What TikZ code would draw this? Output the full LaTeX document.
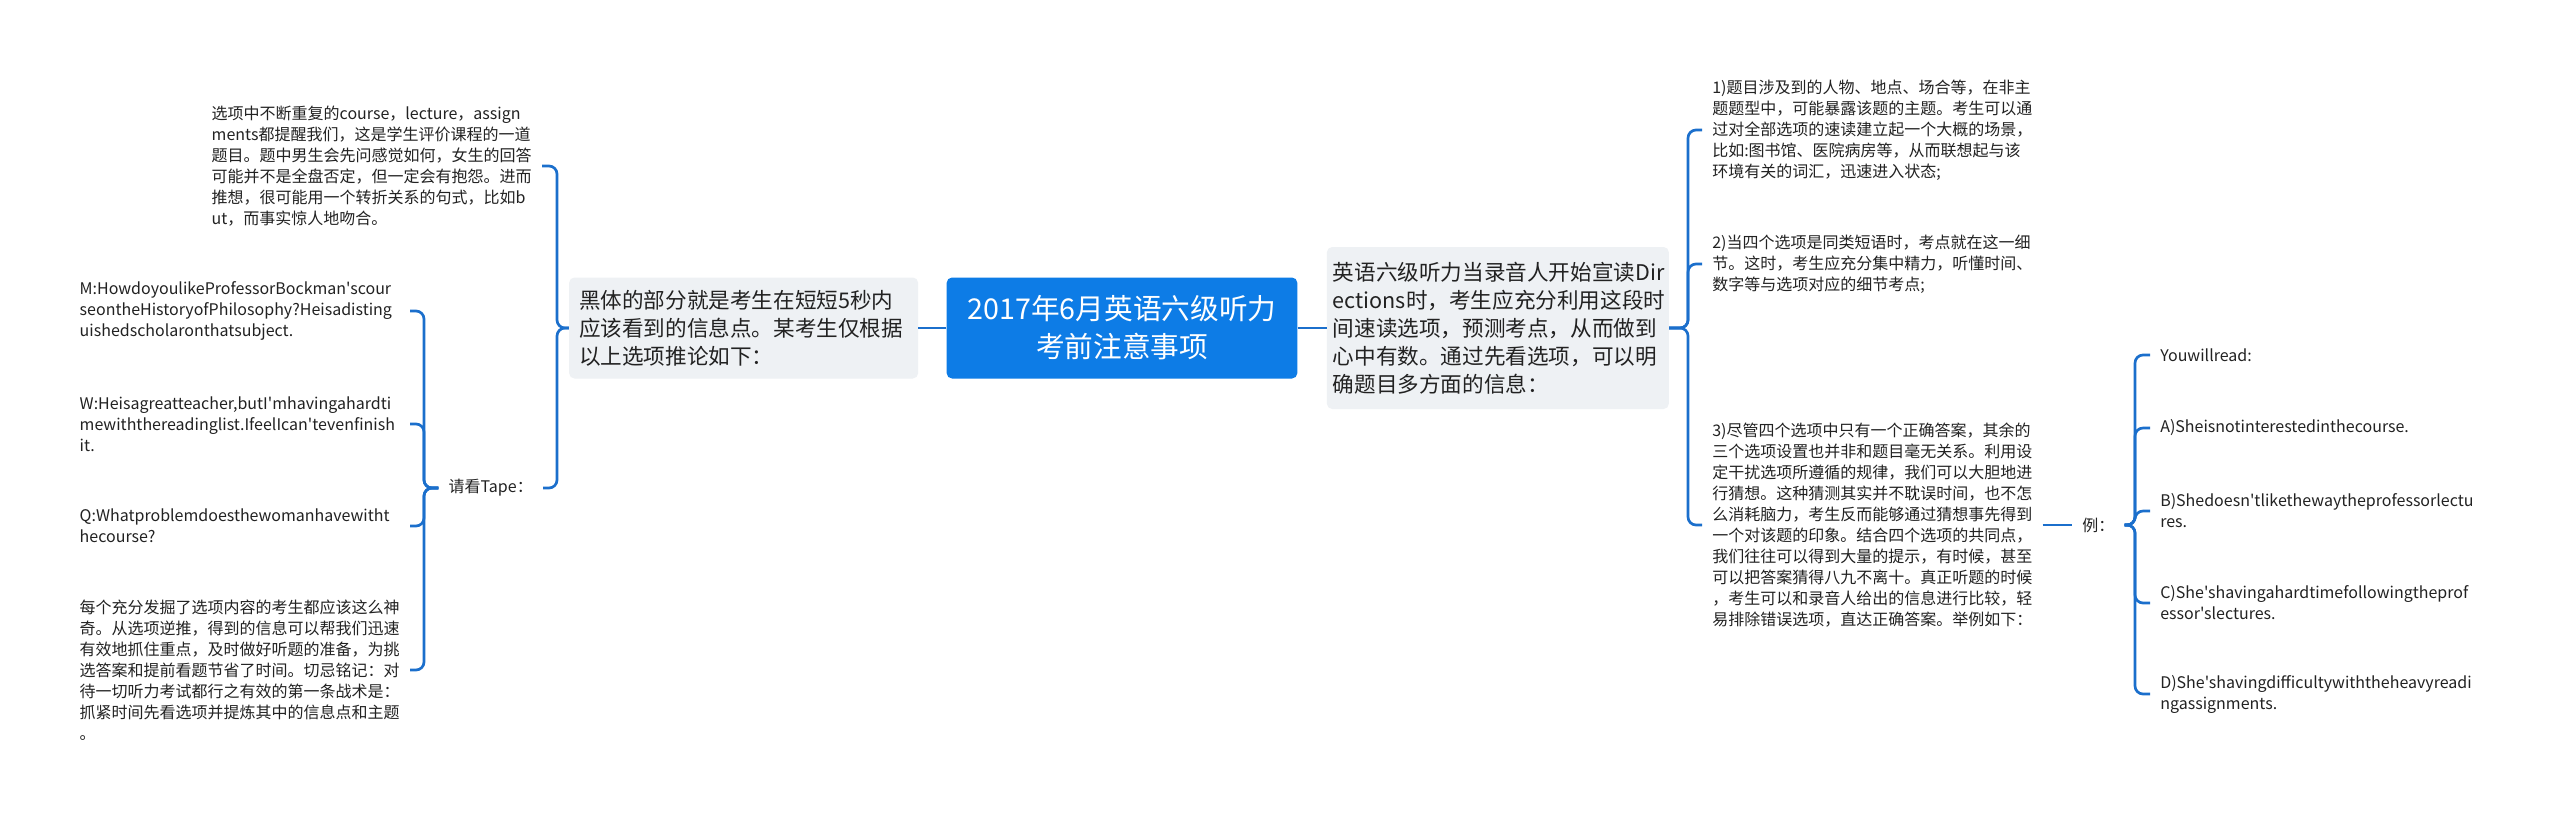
\documentclass[tikz,border=0pt]{standalone}
\usepackage{fontspec}
\setmainfont{Noto Sans CJK SC}[Ligatures=TeXOff]
\usepackage{xcolor}
\definecolor{cRoot}{HTML}{0D7CE6}
\definecolor{cLine}{HTML}{1B6FCC}
\definecolor{cTopic}{HTML}{EEF1F4}
\definecolor{cText}{HTML}{222222}
\usetikzlibrary{positioning}
\hyphenpenalty=10000
\exhyphenpenalty=10000

\begin{document}
\begin{tikzpicture}[x=0.75pt, y=-0.75pt,
    rootbox/.style={fill=cRoot, text=white, rounded corners=4pt, align=center,
                    minimum width=263pt, minimum height=75.75pt,
                    font=\fontsize{21.5}{28.5}\selectfont},
    topicbox/.style={fill=cTopic, text=cText, rounded corners=4pt, align=left,
                     inner ysep=9pt, font=\fontsize{16.2}{21}\selectfont},
    leaf/.style={text=cText, align=left, text width=240pt, inner xsep=7.5pt,
                 inner ysep=2pt, font=\fontsize{12}{15.75}\selectfont},
    tag/.style={text=cText, inner xsep=7.5pt, inner ysep=2pt,
                font=\fontsize{12}{15.75}\selectfont},
    conn/.style={draw=cLine, line width=2pt, rounded corners=6pt},
    node distance=21pt and 21pt
]
\fill[white] (0,0) rectangle (2560,821);
\useasboundingbox (0,0) rectangle (2560,821);

\node[rootbox] (root) at (1122,328) {2017年6月英语六级听力\\考前注意事项};
\node[topicbox, left=21pt of root, text width=246.75pt, inner xsep=7.5pt,
      minimum height=75.75pt] (topicL)
  {黑体的部分就是考生在短短5秒内\\应该看到的信息点。某考生仅根据\\以上选项推论如下：};
\node[topicbox, right=21.75pt of root, text width=247.5pt, inner xsep=4.5pt,
      minimum height=121.5pt] (topicR)
  {英语六级听力当录音人开始宣读Dir\\ections时，考生应充分利用这段时\\间速读选项，预测考点，从而做到\\心中有数。通过先看选项，可以明\\确题目多方面的信息：};

\node[leaf, anchor=east] (hint) at (542,166)
  {选项中不断重复的course，lecture，assign\\ments都提醒我们，这是学生评价课程的一道\\题目。题中男生会先问感觉如何，女生的回答\\可能并不是全盘否定，但一定会有抱怨。进而\\推想，很可能用一个转折关系的句式，比如b\\ut，而事实惊人地吻合。};
\node[tag, anchor=east] (tape) at (543,488) {请看Tape：};
\node[leaf, anchor=east] (dlgM) at (410,311)
  {M:HowdoyoulikeProfessorBockman'scour\\seontheHistoryofPhilosophy?Heisadisting\\uishedscholaronthatsubject.};
\node[leaf, anchor=east] (dlgW) at (410,424)
  {W:Heisagreatteacher,butI'mhavingahardti\\mewiththereadinglist.IfeelIcan'tevenfinish\\it.};
\node[leaf, anchor=east] (dlgQ) at (410,526)
  {Q:Whatproblemdoesthewomanhavewitht\\hecourse?};
\node[leaf, anchor=east] (tip) at (410,670)
  {每个充分发掘了选项内容的考生都应该这么神\\奇。从选项逆推，得到的信息可以帮我们迅速\\有效地抓住重点，及时做好听题的准备，为挑\\选答案和提前看题节省了时间。切忌铭记：对\\待一切听力考试都行之有效的第一条战术是：\\抓紧时间先看选项并提炼其中的信息点和主题\\。};

\node[leaf, anchor=west] (it1) at (1702,130)
  {1)题目涉及到的人物、地点、场合等，在非主\\题题型中，可能暴露该题的主题。考生可以通\\过对全部选项的速读建立起一个大概的场景，\\比如:图书馆、医院病房等，从而联想起与该\\环境有关的词汇，迅速进入状态;};
\node[leaf, anchor=west] (it2) at (1702,264)
  {2)当四个选项是同类短语时，考点就在这一细\\节。这时，考生应充分集中精力，听懂时间、\\数字等与选项对应的细节考点;};
\node[leaf, anchor=west] (it3) at (1702,525)
  {3)尽管四个选项中只有一个正确答案，其余的\\三个选项设置也并非和题目毫无关系。利用设\\定干扰选项所遵循的规律，我们可以大胆地进\\行猜想。这种猜测其实并不耽误时间，也不怎\\么消耗脑力，考生反而能够通过猜想事先得到\\一个对该题的印象。结合四个选项的共同点，\\我们往往可以得到大量的提示，有时候，甚至\\可以把答案猜得八九不离十。真正听题的时候\\，考生可以和录音人给出的信息进行比较，轻\\易排除错误选项，直达正确答案。举例如下：};
\node[tag, anchor=west] (ex) at (2072,525) {例：};
\node[leaf, anchor=west] (optY) at (2150,355) {Youwillread:};
\node[leaf, anchor=west] (optA) at (2150,428) {A)Sheisnotinterestedinthecourse.};
\node[leaf, anchor=west] (optB) at (2150,511)
  {B)Shedoesn'tlikethewaytheprofessorlectu\\res.};
\node[leaf, anchor=west] (optC) at (2150,603)
  {C)She'shavingahardtimefollowingtheprof\\essor'slectures.};
\node[leaf, anchor=west] (optD) at (2150,694)
  {D)She'shavingdifficultywiththeheavyreadi\\ngassignments.};

\coordinate (spL) at (557,328);
\coordinate (spTape) at (424,488);
\coordinate (spR) at (1688,328);
\coordinate (spEx) at (2135,525);

\draw[conn] (root) -- (topicL);
\draw[conn] (root) -- (topicR);
\foreach \n in {hint, tape}
  \draw[conn] (topicL.west) -- (spL) |- (\n.east);
\foreach \n in {dlgM, dlgW, dlgQ, tip}
  \draw[conn] (tape.west) -- (spTape) |- (\n.east);
\foreach \n in {it1, it2, it3}
  \draw[conn] (topicR.east) -- (spR) |- (\n.west);
\draw[conn] (it3.east) -- (ex.west);
\foreach \n in {optY, optA, optB, optC, optD}
  \draw[conn] (ex.east) -- (spEx) |- (\n.west);
\end{tikzpicture}
\end{document}
